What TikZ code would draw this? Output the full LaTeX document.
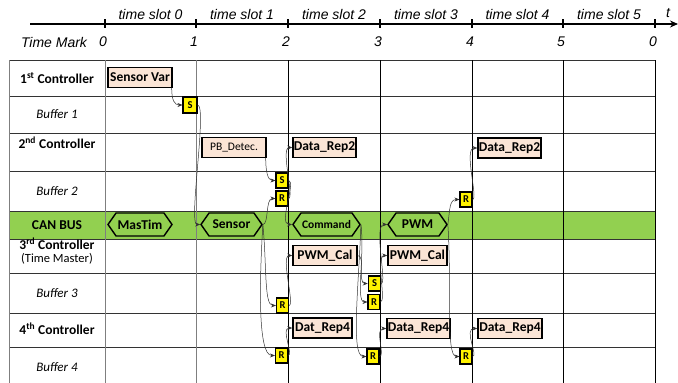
\documentclass[tikz,border=0pt]{standalone}
\usepackage{fontspec}
\setmainfont{Carlito}
\newfontfamily\axisfont{Liberation Sans}
\usetikzlibrary{shapes.symbols,arrows.meta}
\definecolor{busgreen}{HTML}{92D050}
\definecolor{peach}{HTML}{FBE5D6}
\definecolor{gridgray}{HTML}{7F7F7F}

\begin{document}
\begin{tikzpicture}[x=1pt, y=1pt, >={Stealth[length=5pt,width=4pt]},
  task/.style={draw, line width=1.4pt, fill=peach, inner sep=0.5pt, minimum height=20pt,
    font=\fontsize{13.5}{13.5}\selectfont\bfseries},
  msg/.style={signal, signal to=west and east, signal pointer angle=110, draw,
    line width=1.4pt, fill=busgreen, minimum height=23pt, inner xsep=1pt,
    font=\fontsize{13.5}{13.5}\selectfont\bfseries},
  buf/.style={draw, line width=1.1pt, fill=yellow, inner sep=0pt, minimum width=12pt,
    minimum height=15pt, font=\fontsize{10.5}{10.5}\selectfont\bfseries},
  rowlab/.style={font=\fontsize{13.5}{13.5}\selectfont\bfseries, align=center},
  buflab/.style={font=\fontsize{13}{13}\selectfont\itshape},
  axlab/.style={font=\axisfont\fontsize{14}{14}\selectfont\itshape},
  link/.style={->, black!80, line width=0.5pt},
]
\useasboundingbox (0,0) rectangle (678,-383);

% ============================
% Time axis
% ============================
\draw[line width=1.2pt, -{Stealth[length=8pt,width=7pt]}] (30,-24) -- (678,-24);
\foreach \x/\n [count=\i] in {105/0,196/1,288/2,380/3,472/4,563/5,655/0} {
  \draw[line width=1.6pt] (\x,-19) -- (\x,-28);
  \node[axlab] (mark\i) at (\x-2,-42) {\n};
}
\foreach \x/\n in {150.5/0,242/1,334/2,426/3,517.5/4,609/5}
  \node[axlab] (slot\n) at (\x,-14) {time slot \n};
\node[axlab] (tlab) at (668,-13) {t};
\node[axlab] (tmark) at (54,-42) {Time Mark};

% ============================
% Table
% ============================
\fill[busgreen] (9,-211) rectangle (655,-239);
\foreach \y in {60,96,133,171,211,239,273,313,347}
  \draw[black!80, line width=0.6pt] (9,-\y) -- (655,-\y);
\foreach \x in {9,105,196}
  \draw[gridgray, line width=0.8pt] (\x,-60) -- (\x,-383);
\foreach \x in {288,380,472,563,655}
  \draw[black, line width=0.7pt] (\x,-60) -- (\x,-383);

% Row labels
\node[rowlab] (ctrl1) at (57,-78)  {1\textsuperscript{st} Controller};
\node[buflab] (buf1)  at (57,-114) {Buffer 1};
\node[rowlab] (ctrl2) at (57,-143) {2\textsuperscript{nd} Controller};
\node[buflab] (buf2)  at (57,-191) {Buffer 2};
\node[rowlab] (canbus) at (57,-225) {CAN BUS};
\node[rowlab] (ctrl3) at (57,-251)
  {3\textsuperscript{rd} Controller\\[-1pt]{\mdseries\fontsize{12.5}{12.5}\selectfont(Time Master)}};
\node[buflab] (buf3)  at (57,-293) {Buffer 3};
\node[rowlab] (ctrl4) at (57,-329) {4\textsuperscript{th} Controller};
\node[buflab] (buf4)  at (57,-367) {Buffer 4};

% ============================
% Tasks
% ============================
\node[task, minimum width=64pt] (sensvar)  at (140,-77.5)   {Sensor Var};
\node[task, minimum width=64pt, font=\fontsize{11.5}{11.5}\selectfont] (pbdet) at (234,-147.5) {PB\_Detec.};
\node[task, minimum width=63pt] (drep2a)   at (324.5,-147.5) {Data\_Rep2};
\node[task, minimum width=63pt] (drep2b)   at (509.5,-148)   {Data\_Rep2};
\node[task, minimum width=64pt] (pwmcala)  at (325,-255.5)   {PWM\_Cal};
\node[task, minimum width=59pt] (pwmcalb)  at (417.5,-255.5) {PWM\_Cal};
\node[task, minimum width=59pt] (drep4a)   at (322.5,-328)   {Dat\_Rep4};
\node[task, minimum width=63pt] (drep4b)   at (418.5,-328.5) {Data\_Rep4};
\node[task, minimum width=64pt] (drep4c)   at (510,-328.5)   {Data\_Rep4};

% CAN messages
\node[msg, minimum width=64pt] (mastim)  at (140,-224.5)   {MasTim};
\node[msg, minimum width=61pt] (sensor)  at (231.5,-224.5) {Sensor};
\node[msg, minimum width=67pt, font=\fontsize{11.5}{11.5}\selectfont\bfseries] (command) at (326.5,-224.5) {Command};
\node[msg, minimum width=59pt] (pwm)     at (417.5,-224.5) {PWM};

% Buffers
\node[buf, minimum width=14pt, minimum height=16pt] (s1) at (190,-105) {S};
\node[buf] (s2)  at (282,-180.5) {S};
\node[buf] (r2a) at (282,-198.5) {R};
\node[buf] (r2b) at (466,-199.5) {R};
\node[buf] (r3a) at (282.5,-305.5) {R};
\node[buf, line width=1.5pt] (s3) at (374.5,-283.5) {S};
\node[buf] (r3b) at (374,-302) {R};
\node[buf] (r4a) at (281.5,-355.5) {R};
\node[buf] (r4b) at (373,-356.5) {R};
\node[buf] (r4c) at (466,-356.5) {R};

% ============================
% Links
% ============================
\draw[link] ([xshift=-1pt]sensvar.south east) .. controls +(0,-12) and +(-8,0) .. (s1.west);
\draw[link] (s1.east) .. controls +(10,0) and +(-12,0) .. (sensor.west);
\draw[link] ([xshift=-1pt]pbdet.south east) .. controls +(0,-12) and +(-8,0) .. (s2.west);
\draw[link] (sensor.east) .. controls +(6,0) and +(-10,0) .. (r2a.west);
\draw[link] (r2a.east) .. controls +(6,0) and +(-12,0) .. (drep2a.west);
\draw[link] (s2.east) .. controls +(8,0) and +(-14,0) .. (command.west);
\draw[link] (sensor.east) .. controls +(4,-40) and +(-12,0) .. (r3a.west);
\draw[link] (sensor.east) .. controls +(-3,-50) and +(-18,0) .. (r4a.west);
\draw[link] (r3a.east) .. controls +(6,0) and +(-12,0) .. (pwmcala.west);
\draw[link] (r4a.east) .. controls +(6,0) and +(-12,0) .. (drep4a.west);
\draw[link] (command.east) .. controls +(4,-30) and +(-12,0) .. (r3b.west);
\draw[link] (command.east) .. controls +(-2,-60) and +(-16,0) .. (r4b.west);
\draw[link] (pwmcala.east) .. controls +(8,0) and +(-10,0) .. (s3.west);
\draw[link] (s3.east) .. controls +(6,0) and +(-14,0) .. (pwm.west);
\draw[link] (r3b.east) .. controls +(6,0) and +(-12,0) .. (pwmcalb.west);
\draw[link] (r4b.east) .. controls +(6,0) and +(-12,0) .. (drep4b.west);
\draw[link] (pwm.east) .. controls +(2,15) and +(-10,0) .. (r2b.west);
\draw[link] (pwm.east) .. controls +(4,-60) and +(-14,0) .. (r4c.west);
\draw[link] (r2b.east) .. controls +(6,0) and +(-14,0) .. (drep2b.west);
\draw[link] (r4c.east) .. controls +(6,0) and +(-14,0) .. (drep4c.west);

\end{tikzpicture}
\end{document}
